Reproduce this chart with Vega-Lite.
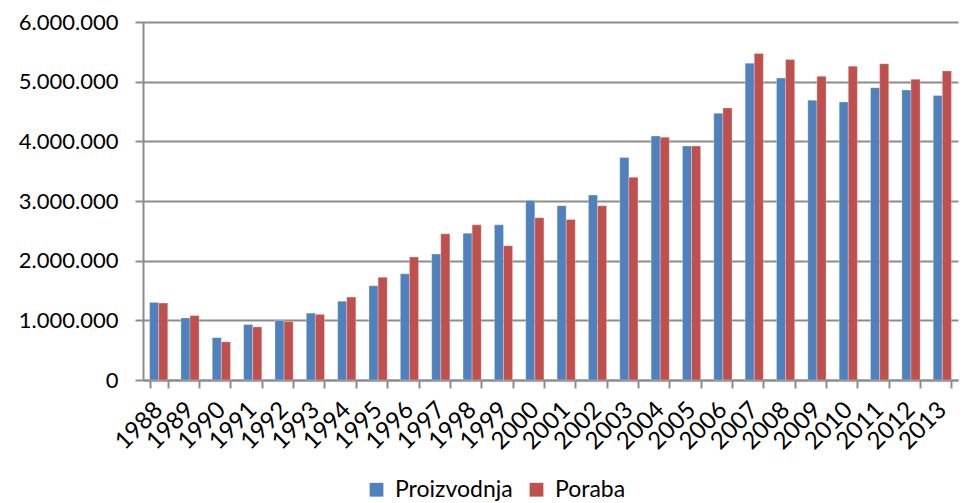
{
  "$schema": "https://vega.github.io/schema/vega-lite/v6.json",
  "autosize": "none",
  "width": 815,
  "height": 358,
  "padding": {"left": 143, "top": 22, "right": 5, "bottom": 123},
  "background": "white",
  "config": {
    "locale": {"number": {"decimal": ",", "thousands": ".", "grouping": [3], "currency": ["", " €"]}},
    "font": "Lato",
    "view": {"stroke": null}
  },
  "data": {
    "values": [
      {"year": "1988", "series": "Proizvodnja", "value": 1300000}, {"year": "1988", "series": "Poraba", "value": 1290000},
      {"year": "1989", "series": "Proizvodnja", "value": 1040000}, {"year": "1989", "series": "Poraba", "value": 1080000},
      {"year": "1990", "series": "Proizvodnja", "value": 710000}, {"year": "1990", "series": "Poraba", "value": 640000},
      {"year": "1991", "series": "Proizvodnja", "value": 930000}, {"year": "1991", "series": "Poraba", "value": 890000},
      {"year": "1992", "series": "Proizvodnja", "value": 995000}, {"year": "1992", "series": "Poraba", "value": 980000},
      {"year": "1993", "series": "Proizvodnja", "value": 1120000}, {"year": "1993", "series": "Poraba", "value": 1100000},
      {"year": "1994", "series": "Proizvodnja", "value": 1320000}, {"year": "1994", "series": "Poraba", "value": 1390000},
      {"year": "1995", "series": "Proizvodnja", "value": 1580000}, {"year": "1995", "series": "Poraba", "value": 1720000},
      {"year": "1996", "series": "Proizvodnja", "value": 1780000}, {"year": "1996", "series": "Poraba", "value": 2060000},
      {"year": "1997", "series": "Proizvodnja", "value": 2110000}, {"year": "1997", "series": "Poraba", "value": 2450000},
      {"year": "1998", "series": "Proizvodnja", "value": 2460000}, {"year": "1998", "series": "Poraba", "value": 2600000},
      {"year": "1999", "series": "Proizvodnja", "value": 2600000}, {"year": "1999", "series": "Poraba", "value": 2250000},
      {"year": "2000", "series": "Proizvodnja", "value": 3010000}, {"year": "2000", "series": "Poraba", "value": 2720000},
      {"year": "2001", "series": "Proizvodnja", "value": 2920000}, {"year": "2001", "series": "Poraba", "value": 2690000},
      {"year": "2002", "series": "Proizvodnja", "value": 3100000}, {"year": "2002", "series": "Poraba", "value": 2920000},
      {"year": "2003", "series": "Proizvodnja", "value": 3730000}, {"year": "2003", "series": "Poraba", "value": 3400000},
      {"year": "2004", "series": "Proizvodnja", "value": 4090000}, {"year": "2004", "series": "Poraba", "value": 4070000},
      {"year": "2005", "series": "Proizvodnja", "value": 3920000}, {"year": "2005", "series": "Poraba", "value": 3920000},
      {"year": "2006", "series": "Proizvodnja", "value": 4470000}, {"year": "2006", "series": "Poraba", "value": 4560000},
      {"year": "2007", "series": "Proizvodnja", "value": 5310000}, {"year": "2007", "series": "Poraba", "value": 5470000},
      {"year": "2008", "series": "Proizvodnja", "value": 5060000}, {"year": "2008", "series": "Poraba", "value": 5370000},
      {"year": "2009", "series": "Proizvodnja", "value": 4690000}, {"year": "2009", "series": "Poraba", "value": 5090000},
      {"year": "2010", "series": "Proizvodnja", "value": 4660000}, {"year": "2010", "series": "Poraba", "value": 5260000},
      {"year": "2011", "series": "Proizvodnja", "value": 4900000}, {"year": "2011", "series": "Poraba", "value": 5300000},
      {"year": "2012", "series": "Proizvodnja", "value": 4860000}, {"year": "2012", "series": "Poraba", "value": 5040000},
      {"year": "2013", "series": "Proizvodnja", "value": 4770000}, {"year": "2013", "series": "Poraba", "value": 5180000}
    ]
  },
  "mark": {"type": "bar", "stroke": "white", "strokeOpacity": 0.35, "strokeWidth": 0.8},
  "encoding": {
    "x": {
      "field": "year", "type": "nominal", "title": null,
      "scale": {"paddingInner": 0.42, "paddingOuter": 0.21},
      "axis": {
        "labelAngle": -45, "labelAlign": "right", "labelBaseline": "middle",
        "labelFontSize": 24, "labelColor": "#000", "labelPadding": 18,
        "tickBand": "extent", "tickSize": 8, "tickColor": "#8c8c8c", "tickWidth": 2,
        "domainColor": "#8c8c8c", "domainWidth": 2, "grid": false
      }
    },
    "y": {
      "field": "value", "type": "quantitative", "title": null,
      "scale": {"domain": [0, 6000000], "nice": false},
      "axis": {
        "values": [0, 1000000, 2000000, 3000000, 4000000, 5000000, 6000000],
        "format": ",d", "labelFontSize": 22, "labelColor": "#000", "labelPadding": 17,
        "tickSize": 8, "tickColor": "#8c8c8c", "tickWidth": 2,
        "domainColor": "#8c8c8c", "domainWidth": 2,
        "grid": true, "gridColor": "#8c8c8c", "gridWidth": 2
      }
    },
    "xOffset": {"field": "series", "type": "nominal", "sort": ["Proizvodnja", "Poraba"], "scale": {"paddingInner": 0}},
    "color": {
      "field": "series", "type": "nominal", "title": null,
      "scale": {"domain": ["Proizvodnja", "Poraba"], "range": ["#4F81BD", "#C0504D"]},
      "legend": {
        "orient": "none", "direction": "horizontal", "legendX": 222, "legendY": 456,
        "symbolType": "square", "symbolSize": 190, "symbolStrokeWidth": 0,
        "labelFontSize": 23, "labelColor": "#000", "columnPadding": 12, "labelOffset": 7
      }
    }
  }
}
